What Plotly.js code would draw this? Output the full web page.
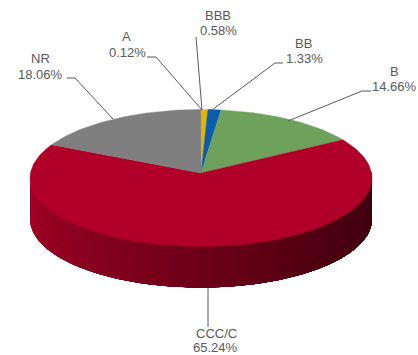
<!DOCTYPE html>
<html>
<head>
<meta charset="utf-8">
<script src="https://cdn.plot.ly/plotly-3.0.1.min.js"></script>
<style>html,body{margin:0;padding:0;background:#fff}#chart{width:418px;height:355px}</style>
</head>
<body>
<div id="chart"></div>
<script>
// Rating breakdown, clockwise from twelve o'clock
const categories = ['A', 'BBB', 'BB', 'B', 'CCC/C', 'NR'];
const shares = [0.12, 0.58, 1.33, 14.66, 65.24, 18.06];
const sliceColors = ['#e3b505', '#e3b505', '#0b5cad', '#6ea25c', '#b00029', '#7f7f7f'];

// Label placement: centre of the name line, centre of the value line
const labelX = [126, 218, 303, 394, 216, 40];
const nameY = [36, 15, 43, 71, 333, 58];
const valueX = [127, 218, 304, 394, 215, 40];
const valueY = [52, 30, 58, 86, 347.5, 74];

// Leader polylines from each label to its slice
const leaderX = [[147, 156, 202], [196, 202], [283, 275, 212], [371, 362, 288], [208, 208], [67, 75, 113]];
const leaderY = [[57, 57, 110], [37, 110], [63, 63, 110], [91, 91, 121], [288, 327], [78, 78, 119]];

// Disc geometry in plot units
const centerX = 201, rimCenterY = 178, apexY = 173;
const radiusX = 171, radiusY = 68.5, wallDepth = 41;
const tilt = 0.08;

// Front wall shading, left to right
const wallStops = [[0, [165, 0, 38]], [0.25, [140, 0, 32]], [0.5, [108, 0, 24]], [0.75, [76, 0, 16]], [1, [58, 0, 12]]];
const wallBands = 48;

function rimPoint(theta) {
  const t = theta - tilt * Math.sin(theta);
  return [centerX + radiusX * Math.sin(t), rimCenterY - radiusY * Math.cos(t)];
}

function wallColor(f) {
  for (let i = 1; i < wallStops.length; i++) {
    if (f <= wallStops[i][0]) {
      const [f0, c0] = wallStops[i - 1], [f1, c1] = wallStops[i];
      const k = (f - f0) / (f1 - f0);
      return 'rgb(' + c0.map((v, j) => Math.round(v + (c1[j] - v) * k)).join(',') + ')';
    }
  }
  return 'rgb(58,0,12)';
}

const traces = [];
const base = {type: 'scatter', mode: 'lines', fill: 'toself', hoverinfo: 'skip', showlegend: false};

// Front wall: each band runs on to the far edge and the next band paints over it,
// which leaves no hairline gaps between neighbouring colours
const wallStart = 1.5 * Math.PI, wallEnd = 0.5 * Math.PI;
for (let i = 0; i < wallBands; i++) {
  const a0 = wallStart + (wallEnd - wallStart) * i / wallBands;
  const steps = 3 * (wallBands - i) + 2;
  const xs = [], ys = [];
  for (let s = 0; s <= steps; s++) {
    const p = rimPoint(a0 + (wallEnd - a0) * s / steps);
    xs.push(p[0]); ys.push(p[1]);
  }
  for (let s = steps; s >= 0; s--) {
    const p = rimPoint(a0 + (wallEnd - a0) * s / steps);
    xs.push(p[0]); ys.push(p[1] + wallDepth);
  }
  traces.push({...base, x: xs, y: ys, fillcolor: wallColor((i + 0.5) / wallBands), line: {width: 0}});
}

// Top face: one wedge per share
let running = 0;
shares.forEach((share, i) => {
  const from = running / 100 * 2 * Math.PI;
  running += share;
  const to = running / 100 * 2 * Math.PI;
  const steps = Math.max(2, Math.ceil(share * 3));
  const xs = [centerX], ys = [apexY];
  for (let s = 0; s <= steps; s++) {
    const p = rimPoint(from + (to - from) * s / steps);
    xs.push(p[0]); ys.push(p[1]);
  }
  xs.push(centerX); ys.push(apexY);
  traces.push({...base, name: categories[i], x: xs, y: ys, fillcolor: sliceColors[i],
               line: {color: sliceColors[i], width: 0.4}});
});

// Leaders sit above the slices
leaderX.forEach((xs, i) => {
  traces.push({type: 'scatter', mode: 'lines', x: xs, y: leaderY[i], hoverinfo: 'skip', showlegend: false,
               line: {color: '#595959', width: 1}});
});

const labelFont = {family: 'Liberation Sans, Arial, sans-serif', size: 13, color: '#595959'};
const annotations = [];
categories.forEach((name, i) => {
  annotations.push({x: labelX[i], y: nameY[i], xref: 'x', yref: 'y', text: name, showarrow: false, font: labelFont});
  annotations.push({x: valueX[i], y: valueY[i], xref: 'x', yref: 'y', text: shares[i].toFixed(2) + '%', showarrow: false, font: labelFont});
});

const layout = {
  width: 418, height: 355,
  margin: {l: 0, r: 0, t: 0, b: 0},
  paper_bgcolor: '#ffffff', plot_bgcolor: '#ffffff',
  xaxis: {range: [0, 418], visible: false, fixedrange: true},
  yaxis: {range: [355, 0], visible: false, fixedrange: true},
  annotations: annotations
};

Plotly.newPlot('chart', traces, layout, {displayModeBar: false, staticPlot: true});
</script>
</body>
</html>
